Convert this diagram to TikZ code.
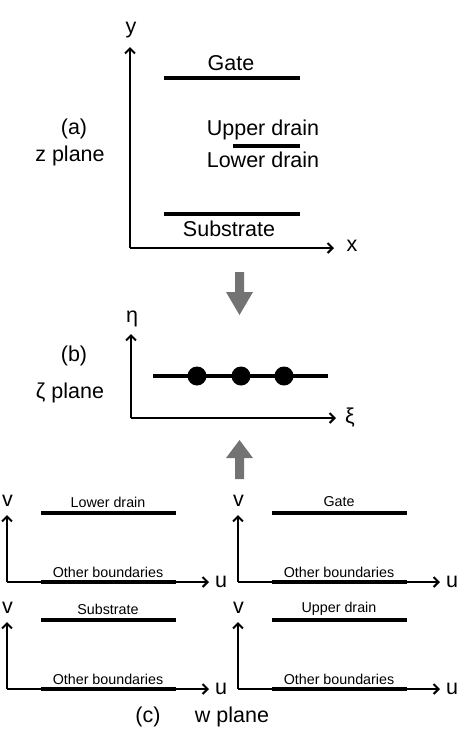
\documentclass[tikz,border=0pt]{standalone}
\usepackage{fontspec}
\setmainfont{Liberation Sans}
\usetikzlibrary{arrows.meta}
\begin{document}
\begin{tikzpicture}[x=1pt,y=-1pt,
  axis/.style={line width=1.2pt,-{Straight Barb[length=5pt,width=10pt,line width=2pt]}},
  plate/.style={line width=4pt},
  big/.style={font=\fontsize{21.5}{23}\selectfont,inner sep=0pt},
  small/.style={font=\fontsize{14.3}{16}\selectfont,inner sep=0pt},
  bigarrow/.style={fill=black!55,draw=none}]
\useasboundingbox (0,0) rectangle (467,737);

% (a) z plane
\coordinate (aO) at (130,248);
\coordinate (aY) at (130,47);
\coordinate (aX) at (334,248);
\draw[axis] (aO) -- (aY);
\draw[axis] (aO) -- (aX);
\node[big] (ylab) at (131,30) {y};
\node[big] (xlab) at (352,246) {x};
\coordinate (g1) at (164,78); \coordinate (g2) at (300,78);
\draw[plate] (g1) -- (g2);
\node[big] (gate) at (231,63) {Gate};
\node[big] (ud) at (263,130) {Upper drain};
\coordinate (d1) at (233,146); \coordinate (d2) at (300,146);
\draw[plate] (d1) -- (d2);
\node[big] (ld) at (263,160) {Lower drain};
\coordinate (s1) at (164,214); \coordinate (s2) at (300,214);
\draw[plate] (s1) -- (s2);
\node[big] (sub) at (229,229) {Substrate};
\node[big] (alab) at (74,129) {(a)};
\node[big] (zpl) at (70,156) {z plane};

% down arrow
\fill[bigarrow] (235,272) -- (244,272) -- (244,292) -- (253,292) -- (239.5,315) -- (226,292) -- (235,292) -- cycle;

% (b) zeta plane
\coordinate (bO) at (131,418);
\coordinate (bY) at (131,334);
\coordinate (bX) at (336,418);
\draw[axis] (bO) -- (bY);
\draw[axis] (bO) -- (bX);
\node[big] (eta) at (132,319) {η};
\node[big] (xi) at (350,418) {ξ};
\coordinate (l1) at (153,376); \coordinate (l2) at (328,376);
\draw[plate] (l1) -- (l2);
\fill (197,376) circle (9.5);
\fill (241,376) circle (9.5);
\fill (284,376) circle (9.5);
\node[big] (blab) at (74,356) {(b)};
\node[big] (zeta) at (70,393) {ζ plane};

% up arrow
\fill[bigarrow] (235,479) -- (244,479) -- (244,458) -- (253,458) -- (239.5,440) -- (226,458) -- (235,458) -- cycle;

% (c) w plane, four panels
\foreach \ox/\oy/\lab in {0/0/Lower drain, 231/0/Gate, 0/107/Substrate, 231/107/Upper drain}{
  \begin{scope}[shift={(\ox,\oy)}]
    \draw[axis] (7,582) -- (7,515);
    \draw[axis] (7,582) -- (209,582);
    \draw[plate] (41,513) -- (176,513);
    \draw[plate] (41,582) -- (176,582);
    \node[big] at (7.5,501) {v};
    \node[big] at (221,582) {u};
    \node[small] at (108,502) {\lab};
    \node[small] at (108,572) {Other boundaries};
  \end{scope}
}
\node[big] (clab) at (148,717) {(c)};
\node[big] (wpl) at (232,717) {w plane};
\end{tikzpicture}
\end{document}
